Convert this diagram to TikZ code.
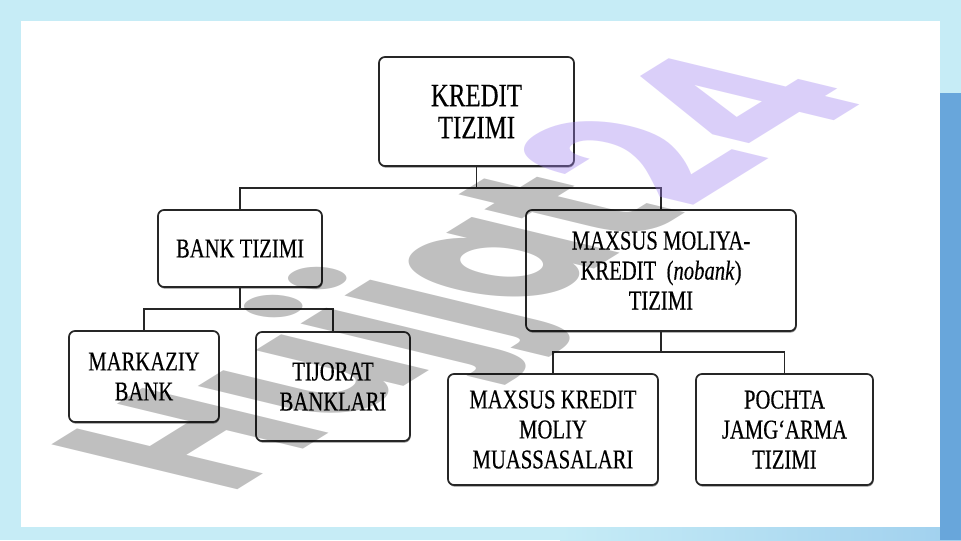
\documentclass[tikz,border=0pt]{standalone}
\usepackage{fontspec}
\setmainfont{Liberation Serif}[FakeStretch=0.76, FakeBold=0.35]
\newfontfamily\wmfont{Poppins}
\usetikzlibrary{shadows}
\definecolor{bgcyan}{RGB}{198,236,246}
\definecolor{bgblue}{RGB}{104,166,219}
\definecolor{bgmid}{RGB}{160,208,238}
\definecolor{lav}{RGB}{160,130,240}
\begin{document}
\begin{tikzpicture}[x=0.75pt,y=-0.75pt,
  box/.style={draw=black!85, line width=1.3pt, fill=white, rounded corners=4.5pt,
    align=center, inner sep=0pt, text=black,
    font=\fontsize{20.4}{22.5}\selectfont,
    drop shadow={shadow xshift=0.5pt, shadow yshift=-1.2pt, fill=black!45, opacity=1}},
  conn/.style={draw=black!85, line width=1.1pt},
  wmark/.style={transform shape, anchor=base west, inner sep=0pt,
    font=\wmfont\bfseries\fontsize{100}{100}\selectfont}
]
% background
\useasboundingbox (0,0) rectangle (961,540);
\fill[bgcyan] (0,0) rectangle (961,540);
\shade[left color=bgcyan, right color=bgmid] (560,527) rectangle (961,540);
\fill[bgblue] (940,93) rectangle (961,540);
\fill[white] (21,21) rectangle (940,527);

% boxes
\node[box, minimum width=195*0.75pt, minimum height=109*0.75pt,
  font=\fontsize{24.5}{24}\selectfont] (K) at (476.5,111.5) {KREDIT\\TIZIMI};
\node[box, minimum width=164*0.75pt, minimum height=77*0.75pt] (B) at (240,248.5) {BANK TIZIMI};
\node[box, minimum width=270*0.75pt, minimum height=121*0.75pt] (M) at (661,270.5)
  {MAXSUS MOLIYA-\\KREDIT\ \ (\textit{nobank})\\TIZIMI};
\node[box, minimum width=150*0.75pt, minimum height=91*0.75pt] (MB) at (144,376.5) {MARKAZIY\\BANK};
\node[box, minimum width=154*0.75pt, minimum height=109*0.75pt] (TB) at (333,386.5) {TIJORAT\\BANKLARI};
\node[box, minimum width=210*0.75pt, minimum height=111*0.75pt] (MK) at (553,429.5)
  {MAXSUS KREDIT\\MOLIY\\MUASSASALARI};
\node[box, minimum width=177*0.75pt, minimum height=111*0.75pt] (PJ) at (784.5,429.5)
  {POCHTA\\JAMG‘ARMA\\TIZIMI};

% connectors
\coordinate (j1) at (476.5,188);
\coordinate (j2) at (240,309);
\coordinate (j3) at (661,352);
\draw[conn] (K.south) -- (j1);
\draw[conn] (B.north) -- (B.north |- j1) -- (M.north |- j1) -- (M.north);
\draw[conn] (B.south) -- (j2);
\draw[conn] (MB.north) -- (MB.north |- j2) -- (TB.north |- j2) -- (TB.north);
\draw[conn] (M.south) -- (j3);
\draw[conn] (MK.north) -- (MK.north |- j3) -- (PJ.north |- j3) -- (PJ.north);

% watermark
\begin{scope}[shift={(228,496)}, cm={1.125,0.6975,-1.9875,0.48,(0,0)}]
  \node[wmark, text=black, text opacity=0.25] (wm1) at (0,0) {Hujjat};
\end{scope}
\begin{scope}[cm={1.125,0.6975,-1.9875,0.48,(0,0)}]
  \node[wmark, text=lav, text opacity=0.38] (wm2) at (wm1.base east) {24};
\end{scope}
\end{tikzpicture}
\end{document}
